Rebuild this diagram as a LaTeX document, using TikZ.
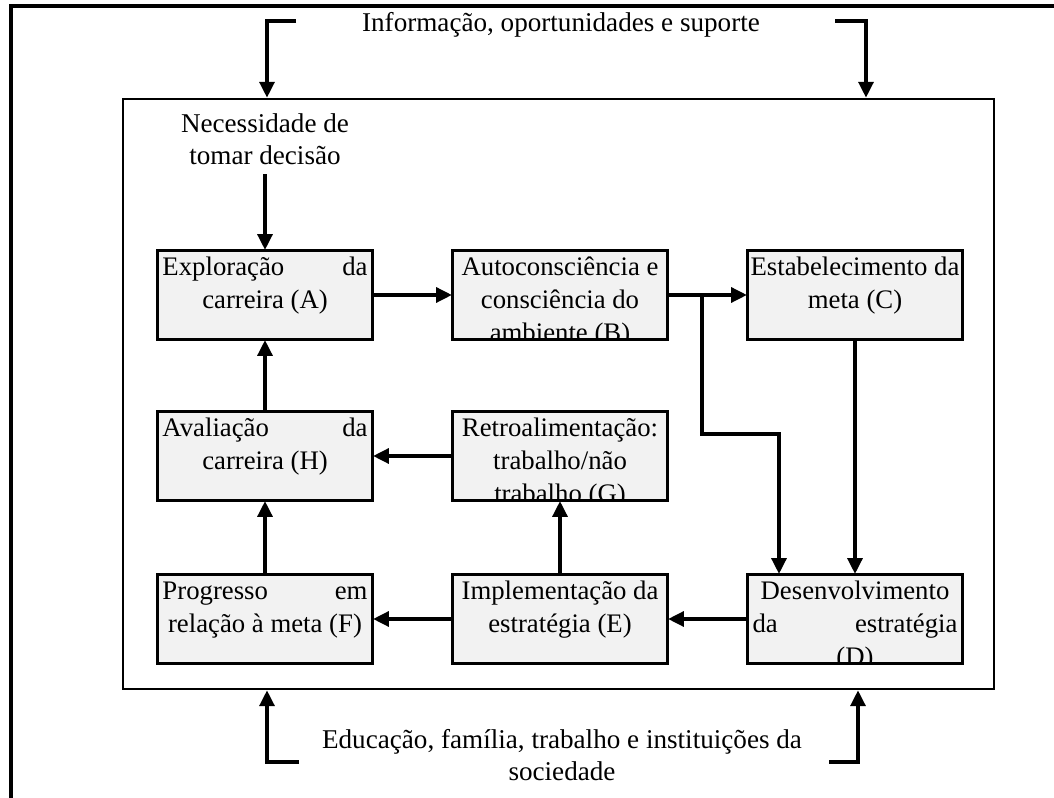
\documentclass[tikz,border=0pt]{standalone}
\usepackage{fontspec}
\setmainfont{Liberation Serif}
\usetikzlibrary{arrows.meta}

\definecolor{boxfill}{RGB}{242,242,242}

% a centred stack of lines whose baseline is the first line
\newcommand\linestack[1]{\begin{tabular}[t]{@{}c@{}}#1\end{tabular}}
% a line spread over the full text width of a stage box
\newcommand\spread[1]{\makebox[82pt][s]{#1}}

\begin{document}
\begin{tikzpicture}[x=0.4pt,y=-0.4pt,
  stagebox/.style={rectangle,draw,line width=0.9pt,fill=boxfill,
    minimum width=85.6pt,minimum height=35.2pt,inner sep=0pt},
  stageedge/.style={line width=0.9pt},
  boxtext/.style={inner sep=0pt,anchor=base,font=\fontsize{10.7}{13.2}\selectfont},
  outtext/.style={inner sep=0pt,anchor=base,font=\fontsize{10.85}{12.6}\selectfont},
  conn/.style={line width=1.25pt,-{Triangle[length=6.3pt,width=6pt]}},
  frameline/.style={line width=1.3pt},
]
\useasboundingbox (0,0) rectangle (1054,798);

% a stage: filled box, its text clipped to the box, border on top
\newcommand\stage[4]{%
  \node[stagebox] (#1) at (#2,#3) {};
  \begin{scope}
    \clip (#1.south west) rectangle (#1.north east);
    \node[boxtext] (#1-text) at ([yshift=-10.4pt]#1.north) {\linestack{#4}};
  \end{scope}
  \draw[stageedge] (#1.south west) rectangle (#1.north east);
}

% outer frame (top and left sides)
\draw[frameline] (11,798) -- (11,6) -- (1054,6);

% environment box
\node[draw,line width=1.1pt,minimum width=348.4pt,minimum height=236pt,inner sep=0pt]
  (env) at (558.5,394) {};

% stages
\stage{A}{265}{295}{\spread{Exploração da}\\ carreira (A)}
\stage{B}{560}{295}{Autoconsciência e\\ consciência do\\ ambiente (B)}
\stage{C}{855}{295}{Estabelecimento da\\ meta (C)}
\stage{H}{265}{456}{\spread{Avaliação da}\\ carreira (H)}
\stage{G}{560}{456}{Retroalimentação:\\ trabalho/não\\ trabalho (G)}
\stage{F}{265}{619}{\spread{Progresso em}\\ relação à meta (F)}
\stage{E}{560}{619}{Implementação da\\ estratégia (E)}
\stage{D}{855}{619}{Desenvolvimento\\ \spread{da estratégia}\\ (D)}

% texts
\node[outtext] (info) at (561,32) {Informação, oportunidades e suporte};
\node[outtext] (need) at (265,133) {\linestack{Necessidade de\\ tomar decisão}};
\node[outtext] (soc) at (562,749)
  {\linestack{Educação, família, trabalho e instituições da\\ sociedade}};

% influences from outside
\coordinate (infoL) at (296,21);
\coordinate (tlDrop) at (267,21);
\coordinate (infoR) at (835,21);
\coordinate (trDrop) at (866,21);
\coordinate (socL) at (299,762);
\coordinate (blRise) at (267,762);
\coordinate (socR) at (829,762);
\coordinate (brRise) at (858,762);
\draw[conn] (infoL) -- (tlDrop) -- (tlDrop |- env.north);
\draw[conn] (infoR) -- (trDrop) -- (trDrop |- env.north);
\draw[conn] (socL) -- (blRise) -- (blRise |- env.south);
\draw[conn] (socR) -- (brRise) -- (brRise |- env.south);

% process flow
\draw[conn] (need.south) -- (A.north);
\draw[conn] (A.east) -- (B.west);
\draw[conn] (B.east) -- (C.west);
\coordinate (split) at (702,295);
\coordinate (turn) at (779,434);
\draw[conn] (split) |- (turn) -- (turn |- D.north);
\draw[conn] (C.south) -- (D.north);
\draw[conn] (D.west) -- (E.east);
\draw[conn] (E.west) -- (F.east);
\draw[conn] (E.north) -- (G.south);
\draw[conn] (G.west) -- (H.east);
\draw[conn] (F.north) -- (H.south);
\draw[conn] (H.north) -- (A.south);
\end{tikzpicture}
\end{document}
